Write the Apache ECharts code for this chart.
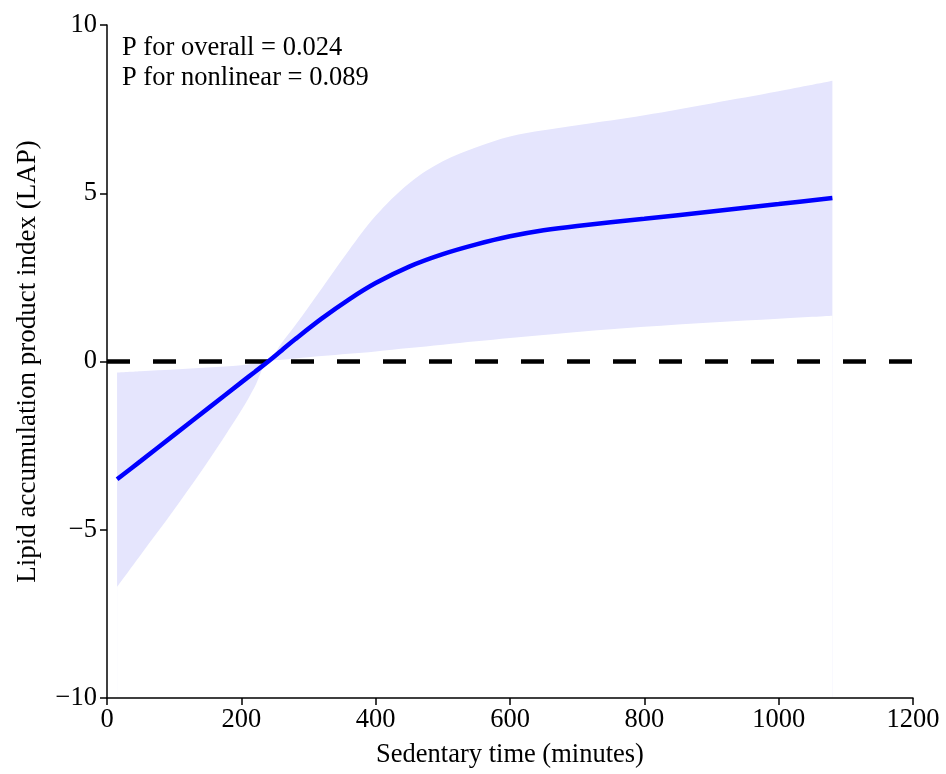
<!DOCTYPE html>
<html>
<head>
<meta charset="utf-8">
<script src="https://cdn.jsdelivr.net/npm/echarts@6/dist/echarts.min.js"></script>
<style>html,body{margin:0;padding:0;background:#fff}#c{width:946px;height:774px}</style>
</head>
<body>
<div id="c"></div>
<script>
const xs =    [15,    50,    100,   150,   200,   220,   240,  260,  280,  320,  360,  400,  450,  500,  550,  600,  650,  700,  800,  900,  1000, 1080];
const mean =  [-3.50, -2.96, -2.18, -1.40, -0.62, -0.31, 0.00, 0.33, 0.66, 1.28, 1.84, 2.33, 2.82, 3.19, 3.48, 3.72, 3.90, 4.03, 4.24, 4.46, 4.68, 4.86];
const upper = [-0.33, -0.29, -0.24, -0.18, -0.11, -0.06, 0.00, 0.55, 1.07, 2.18, 3.30, 4.33, 5.30, 5.95, 6.37, 6.69, 6.87, 7.02, 7.32, 7.67, 8.03, 8.34];
const lower = [-6.70, -5.75, -4.40, -2.98, -1.45, -0.75, 0.00, 0.05, 0.09, 0.16, 0.23, 0.30, 0.40, 0.50, 0.60, 0.70, 0.79, 0.88, 1.03, 1.16, 1.27, 1.36];
const xTicks = [0, 200, 400, 600, 800, 1000, 1200];
const yTicks = [-10, -5, 0, 5, 10];
const notes = ['P for overall = 0.024', 'P for nonlinear = 0.089'];

const font = 'Liberation Serif, Times New Roman, serif';
const chart = echarts.init(document.getElementById('c'), null, {renderer: 'canvas'});
const pairs = arr => xs.map((x, i) => [x, arr[i]]);
const fmt = v => (v < 0 ? '\u2212' + Math.abs(v) : String(v));

chart.setOption({
  animation: false,
  grid: {left: 107, right: 33, top: 25, bottom: 73},
  xAxis: {
    type: 'value', min: xTicks[0], max: xTicks[xTicks.length - 1], interval: xTicks[1] - xTicks[0],
    z: 10,
    name: 'Sedentary time (minutes)', nameLocation: 'middle', nameGap: 44,
    nameTextStyle: {fontFamily: font, fontSize: 26.5, color: '#000'},
    axisLine: {onZero: false, lineStyle: {color: '#000', width: 1.5}},
    axisTick: {show: true, length: 7, lineStyle: {color: '#000', width: 1.5}},
    axisLabel: {fontFamily: font, fontSize: 26.5, color: '#000', margin: 9, formatter: fmt},
    splitLine: {show: false}
  },
  yAxis: {
    type: 'value', min: yTicks[0], max: yTicks[yTicks.length - 1], interval: yTicks[1] - yTicks[0],
    z: 10,
    name: 'Lipid accumulation product index (LAP)', nameLocation: 'middle', nameGap: 66,
    nameTextStyle: {fontFamily: font, fontSize: 27, color: '#000'},
    axisLine: {show: true, onZero: false, lineStyle: {color: '#000', width: 1.5}},
    axisTick: {show: true, length: 7, lineStyle: {color: '#000', width: 1.5}},
    axisLabel: {fontFamily: font, fontSize: 26.5, color: '#000', margin: 10, formatter: fmt},
    splitLine: {show: false}
  },
  series: [
    {type: 'line', data: pairs(upper), symbol: 'none', smooth: 0.35, z: 1,
     lineStyle: {width: 0, opacity: 0}, areaStyle: {color: '#e5e5fd', opacity: 1, origin: 'start'}, silent: true},
    {type: 'line', data: pairs(lower), symbol: 'none', smooth: 0.35, z: 2,
     lineStyle: {width: 0, opacity: 0}, areaStyle: {color: '#ffffff', opacity: 1, origin: 'start'}, silent: true},
    {type: 'line', data: pairs(mean), symbol: 'none', smooth: 0.35, z: 5,
     lineStyle: {color: '#0000ff', width: 4.5}, silent: true,
     markLine: {silent: true, symbol: 'none', label: {show: false}, z: 4,
       lineStyle: {color: '#000', width: 4.5, type: [23, 23]},
       data: [{yAxis: 0}]}}
  ],
  graphic: notes.map((t, i) => ({
    type: 'text', x: 122, y: 48 + i * 30, z: 100,
    style: {text: t, fontFamily: font, fontSize: 26.5, fill: '#000', verticalAlign: 'middle'}
  }))
});
</script>
</body>
</html>
